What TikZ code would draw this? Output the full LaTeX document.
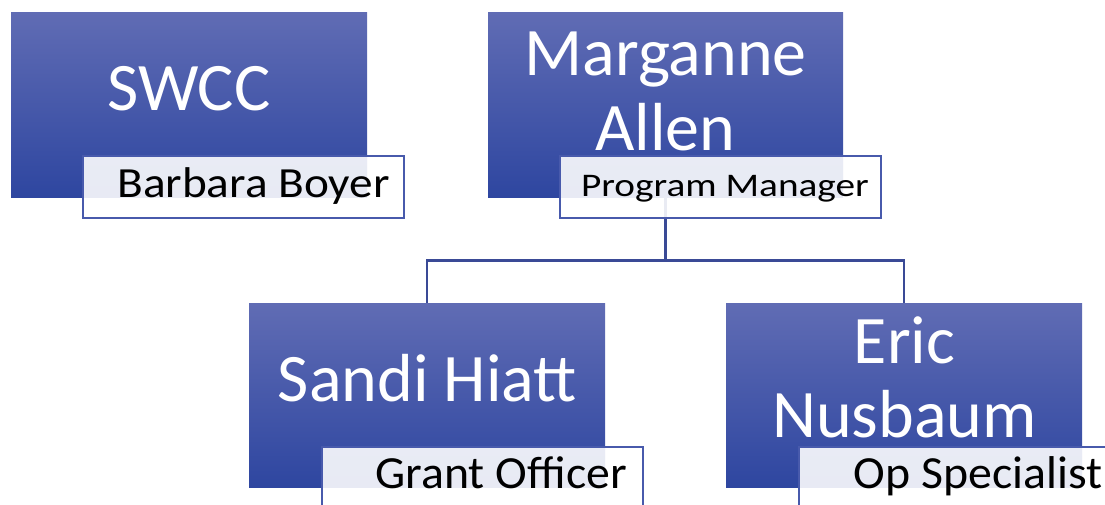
\documentclass[tikz,border=0pt]{standalone}
\usepackage{fontspec}
\setmainfont{Carlito}
\usepackage{xcolor}
\usetikzlibrary{positioning}

\definecolor{boxtop}{RGB}{96,108,180}
\definecolor{boxbot}{RGB}{46,70,160}
\definecolor{lblline}{RGB}{72,90,172}
\definecolor{linkblue}{RGB}{58,74,150}

\tikzset{
    person/.style={shading=axis, top color=boxtop, bottom color=boxbot,
        minimum width=356pt, minimum height=185pt, inner sep=0pt, anchor=north west},
    role/.style={draw=lblline, line width=2pt, fill=white, fill opacity=0.89,
        minimum width=321pt, minimum height=62pt, inner sep=0pt, anchor=north west},
    nametext/.style={text=white, inner sep=0pt, anchor=base,
        font=\fontsize{68}{75}\selectfont},
    roletext/.style={text=black, inner sep=0pt, anchor=base east},
    link/.style={draw=linkblue, line width=2.5pt}
}

\begin{document}
\begin{tikzpicture}[x=1pt, y=-1pt]
    \useasboundingbox (0,0) rectangle (1105,504);
    \clip (0,0) rectangle (1105,504);

    % Top row
    \node[person] (swcc) at (11,12) {};
    \node[person, minimum width=355pt] (allen) at (488,12) {};

    % Bottom row
    \node[person, minimum height=184pt] (hiatt) at (249,303) {};
    \node[person, minimum height=184pt] (nusbaum) at (726,303) {};

    % Names
    \node[nametext] (swcctxt) at (189,110) {SWCC};
    \node[nametext] (allentxt1) at (665.5,75) {Marganne};
    \node[nametext] (allentxt2) at (665.5,150) {Allen};
    \node[nametext] (hiatttxt) at (427.5,401) {Sandi Hiatt};
    \node[nametext] (nusbaumtxt1) at (904.5,363) {Eric};
    \node[nametext] (nusbaumtxt2) at (904.5,437) {Nusbaum};

    % Reporting lines
    \draw[link] (allen.south) -- ++(0,63) coordinate (split) -| (hiatt.north);
    \draw[link] (split) -| (nusbaum.north);

    % Role labels
    \node[role] (swccrole) at (82,155) {};
    \node[role] (allenrole) at (559,155) {};
    \node[role] (hiattrole) at (321,446) {};
    \node[role] (nusbaumrole) at (798,446) {};

    \node[roletext, font=\fontsize{43}{48}\selectfont] at (390,197)
        {\scalebox{1.1}[1]{Barbara Boyer}};
    \node[roletext, font=\fontsize{33}{38}\selectfont] at (869,196)
        {\scalebox{1.19}[1]{Program Manager}};
    \node[roletext, font=\fontsize{46}{52}\selectfont] at (627,488)
        {\scalebox{1.04}[1]{Grant Officer}};
    \node[roletext, font=\fontsize{46}{52}\selectfont] at (1103,488)
        {\scalebox{1.04}[1]{Op Specialist}};
\end{tikzpicture}
\end{document}
